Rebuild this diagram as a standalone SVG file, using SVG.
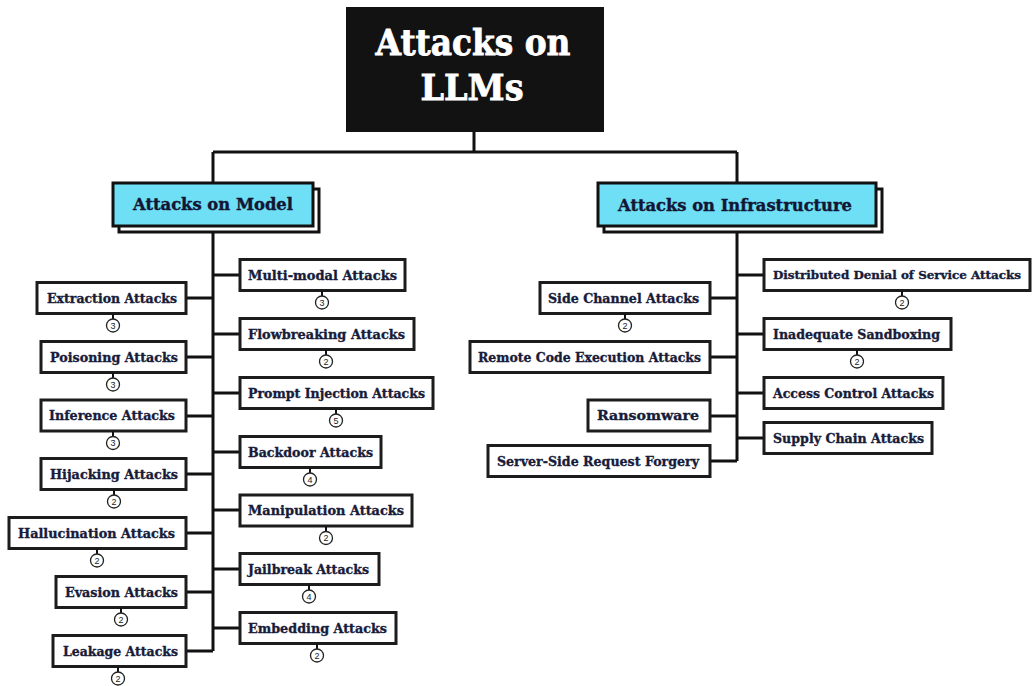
<svg xmlns="http://www.w3.org/2000/svg" width="1033" height="686" viewBox="0 0 1033 686">
  <style>
    .leaf rect { fill: #ffffff; stroke: #1c1c1c; stroke-width: 3; }
    .leaf text { font-family: "DejaVu Serif", "Liberation Serif", serif; font-weight: bold; font-size: 13px; fill: #171c3a; stroke: #171c3a; stroke-width: 0.35; text-anchor: middle; }
    .leaf text.narrow { font-size: 11px; }
    .cat .shadow { fill: #ffffff; stroke: #111111; stroke-width: 3; }
    .cat .face { fill: #6fdff6; stroke: #111111; stroke-width: 3; }
    .cat text { font-family: "DejaVu Serif", "Liberation Serif", serif; font-weight: bold; font-size: 16px; fill: #121634; stroke: #121634; stroke-width: 0.4; text-anchor: middle; }
    .root text { font-family: "DejaVu Serif", "Liberation Serif", serif; font-weight: bold; font-size: 35px; fill: #ffffff; stroke: #ffffff; stroke-width: 0.8; text-anchor: middle; }
    .link { fill: none; stroke: #111111; stroke-width: 3; }
    .badge line { stroke: #111111; stroke-width: 2; }
    .badge circle { fill: #ffffff; stroke: #222222; stroke-width: 1.3; }
    .leaf .badge text { font-family: "Liberation Sans", Arial, sans-serif; font-weight: normal; font-size: 9px; fill: #222222; stroke: none; text-anchor: middle; }
  </style>

  <rect width="1033" height="686" fill="#ffffff"/>

  <!-- connectors -->
  <g id="connectors" class="link">
    <path d="M474 132 V152 M213 152 H737 M213 152 V183 M737 152 V183"/>
    <!-- model trunk -->
    <path d="M213 226 V651"/>
    <path d="M186 298 H213 M186 357 H213 M186 416 H213 M186 474 H213 M186 533 H213 M186 592 H213 M186 651 H213"/>
    <path d="M213 275 H240 M213 334 H240 M213 393 H240 M213 452 H240 M213 510 H240 M213 569 H240 M213 628 H240"/>
    <!-- infrastructure trunk -->
    <path d="M737 226 V461"/>
    <path d="M710 298 H737 M710 357 H737 M710 416 H737 M710 461 H737"/>
    <path d="M737 275 H764 M737 334 H764 M737 393 H764 M737 438 H764"/>
  </g>

  <!-- root -->
  <g id="root" class="root">
    <rect x="346" y="7" width="258" height="125" fill="#121212"/>
    <text x="473" y="55" textLength="195" lengthAdjust="spacingAndGlyphs">Attacks on</text>
    <text x="472" y="100" textLength="103" lengthAdjust="spacingAndGlyphs">LLMs</text>
  </g>

  <!-- categories -->
  <g id="cat-model" class="cat">
    <rect class="shadow" x="119" y="189" width="200" height="43"/>
    <rect class="face" x="113" y="183" width="200" height="43"/>
    <text x="213" y="210" textLength="160" lengthAdjust="spacingAndGlyphs">Attacks on Model</text>
  </g>
  <g id="cat-infra" class="cat">
    <rect class="shadow" x="604" y="189" width="278" height="43"/>
    <rect class="face" x="598" y="183" width="278" height="43"/>
    <text x="735" y="211" textLength="234" lengthAdjust="spacingAndGlyphs">Attacks on Infrastructure</text>
  </g>

  <!-- model attacks, left column -->
  <g id="extraction" class="leaf">
    <rect x="37" y="282.5" width="149" height="31"/>
    <text x="112" y="302.5" textLength="130" lengthAdjust="spacingAndGlyphs">Extraction Attacks</text>
    <g class="badge"><line x1="113" y1="314" x2="113" y2="319"/><circle cx="113" cy="325.5" r="6.5"/><text x="113" y="328.7">3</text></g>
  </g>
  <g id="poisoning" class="leaf">
    <rect x="41" y="341.5" width="145" height="31"/>
    <text x="114" y="361.5" textLength="128" lengthAdjust="spacingAndGlyphs">Poisoning Attacks</text>
    <g class="badge"><line x1="113" y1="373" x2="113" y2="378"/><circle cx="113" cy="384.5" r="6.5"/><text x="113" y="387.7">3</text></g>
  </g>
  <g id="inference" class="leaf">
    <rect x="41" y="400" width="145" height="31"/>
    <text x="112" y="420" textLength="126" lengthAdjust="spacingAndGlyphs">Inference Attacks</text>
    <g class="badge"><line x1="113" y1="431.5" x2="113" y2="436.5"/><circle cx="113" cy="443" r="6.5"/><text x="113" y="446.2">3</text></g>
  </g>
  <g id="hijacking" class="leaf">
    <rect x="41" y="458.5" width="145" height="31"/>
    <text x="114" y="478.5" textLength="128" lengthAdjust="spacingAndGlyphs">Hijacking Attacks</text>
    <g class="badge"><line x1="114" y1="490" x2="114" y2="495"/><circle cx="114" cy="501.5" r="6.5"/><text x="114" y="504.7">2</text></g>
  </g>
  <g id="hallucination" class="leaf">
    <rect x="9" y="517.5" width="177" height="31"/>
    <text x="96.5" y="537.5" textLength="157" lengthAdjust="spacingAndGlyphs">Hallucination Attacks</text>
    <g class="badge"><line x1="97" y1="549" x2="97" y2="554"/><circle cx="97" cy="560.5" r="6.5"/><text x="97" y="563.7">2</text></g>
  </g>
  <g id="evasion" class="leaf">
    <rect x="56" y="576.5" width="130" height="31"/>
    <text x="121.5" y="596.5" textLength="113" lengthAdjust="spacingAndGlyphs">Evasion Attacks</text>
    <g class="badge"><line x1="121" y1="608" x2="121" y2="613"/><circle cx="121" cy="619.5" r="6.5"/><text x="121" y="622.7">2</text></g>
  </g>
  <g id="leakage" class="leaf">
    <rect x="53" y="635.5" width="133" height="31"/>
    <text x="120.5" y="655.5" textLength="115" lengthAdjust="spacingAndGlyphs">Leakage Attacks</text>
    <g class="badge"><line x1="118" y1="667" x2="118" y2="672"/><circle cx="118" cy="678.5" r="6.5"/><text x="118" y="681.7">2</text></g>
  </g>

  <!-- model attacks, right column -->
  <g id="multimodal" class="leaf">
    <rect x="240" y="259.5" width="165" height="31"/>
    <text x="322.5" y="279.5" textLength="149" lengthAdjust="spacingAndGlyphs">Multi-modal Attacks</text>
    <g class="badge"><line x1="322" y1="291" x2="322" y2="296"/><circle cx="322" cy="302.5" r="6.5"/><text x="322" y="305.7">3</text></g>
  </g>
  <g id="flowbreaking" class="leaf">
    <rect x="240" y="318.5" width="174" height="31"/>
    <text x="326.5" y="338.5" textLength="157" lengthAdjust="spacingAndGlyphs">Flowbreaking Attacks</text>
    <g class="badge"><line x1="326" y1="350" x2="326" y2="355"/><circle cx="326" cy="361.5" r="6.5"/><text x="326" y="364.7">2</text></g>
  </g>
  <g id="prompt-injection" class="leaf">
    <rect x="240" y="377.5" width="193" height="31"/>
    <text x="336.5" y="397.5" textLength="177" lengthAdjust="spacingAndGlyphs">Prompt Injection Attacks</text>
    <g class="badge"><line x1="336" y1="409" x2="336" y2="414"/><circle cx="336" cy="420.5" r="6.5"/><text x="336" y="423.7">5</text></g>
  </g>
  <g id="backdoor" class="leaf">
    <rect x="240" y="436.5" width="141" height="31"/>
    <text x="310.5" y="456.5" textLength="125" lengthAdjust="spacingAndGlyphs">Backdoor Attacks</text>
    <g class="badge"><line x1="310" y1="468" x2="310" y2="473"/><circle cx="310" cy="479.5" r="6.5"/><text x="310" y="482.7">4</text></g>
  </g>
  <g id="manipulation" class="leaf">
    <rect x="240" y="495" width="172" height="31"/>
    <text x="326" y="515" textLength="156" lengthAdjust="spacingAndGlyphs">Manipulation Attacks</text>
    <g class="badge"><line x1="326" y1="526.5" x2="326" y2="531.5"/><circle cx="326" cy="538" r="6.5"/><text x="326" y="541.2">2</text></g>
  </g>
  <g id="jailbreak" class="leaf">
    <rect x="240" y="553.5" width="139" height="31"/>
    <text x="308.5" y="573.5" textLength="121" lengthAdjust="spacingAndGlyphs">Jailbreak Attacks</text>
    <g class="badge"><line x1="309" y1="585" x2="309" y2="590"/><circle cx="309" cy="596.5" r="6.5"/><text x="309" y="599.7">4</text></g>
  </g>
  <g id="embedding" class="leaf">
    <rect x="240" y="612.5" width="156" height="31"/>
    <text x="317.5" y="632.5" textLength="139" lengthAdjust="spacingAndGlyphs">Embedding Attacks</text>
    <g class="badge"><line x1="317" y1="644" x2="317" y2="649"/><circle cx="317" cy="655.5" r="6.5"/><text x="317" y="658.7">2</text></g>
  </g>

  <!-- infrastructure attacks, left column -->
  <g id="side-channel" class="leaf">
    <rect x="540" y="282.5" width="170" height="31"/>
    <text x="623.5" y="302.5" textLength="151" lengthAdjust="spacingAndGlyphs">Side Channel Attacks</text>
    <g class="badge"><line x1="625" y1="314" x2="625" y2="319"/><circle cx="625" cy="325.5" r="6.5"/><text x="625" y="328.7">2</text></g>
  </g>
  <g id="rce" class="leaf">
    <rect x="470" y="341.5" width="240" height="31"/>
    <text x="589.5" y="361.5" textLength="223" lengthAdjust="spacingAndGlyphs">Remote Code Execution Attacks</text>
  </g>
  <g id="ransomware" class="leaf">
    <rect x="588" y="400" width="122" height="31"/>
    <text x="648" y="420" textLength="102" lengthAdjust="spacingAndGlyphs">Ransomware</text>
  </g>
  <g id="ssrf" class="leaf">
    <rect x="488" y="445.5" width="222" height="31"/>
    <text x="598" y="465.5" textLength="202" lengthAdjust="spacingAndGlyphs">Server-Side Request Forgery</text>
  </g>

  <!-- infrastructure attacks, right column -->
  <g id="ddos" class="leaf">
    <rect x="764" y="259.5" width="266" height="31"/>
    <text class="narrow" x="897" y="279" textLength="248" lengthAdjust="spacingAndGlyphs">Distributed Denial of Service Attacks</text>
    <g class="badge"><line x1="902" y1="291" x2="902" y2="296"/><circle cx="902" cy="302.5" r="6.5"/><text x="902" y="305.7">2</text></g>
  </g>
  <g id="sandboxing" class="leaf">
    <rect x="764" y="318.5" width="187" height="31"/>
    <text x="856.5" y="338.5" textLength="167" lengthAdjust="spacingAndGlyphs">Inadequate Sandboxing</text>
    <g class="badge"><line x1="857" y1="350" x2="857" y2="355"/><circle cx="857" cy="361.5" r="6.5"/><text x="857" y="364.7">2</text></g>
  </g>
  <g id="access-control" class="leaf">
    <rect x="764" y="377.5" width="179" height="31"/>
    <text x="853.5" y="397.5" textLength="161" lengthAdjust="spacingAndGlyphs">Access Control Attacks</text>
  </g>
  <g id="supply-chain" class="leaf">
    <rect x="764" y="422.5" width="168" height="31"/>
    <text x="848.5" y="442.5" textLength="151" lengthAdjust="spacingAndGlyphs">Supply Chain Attacks</text>
  </g>
</svg>
